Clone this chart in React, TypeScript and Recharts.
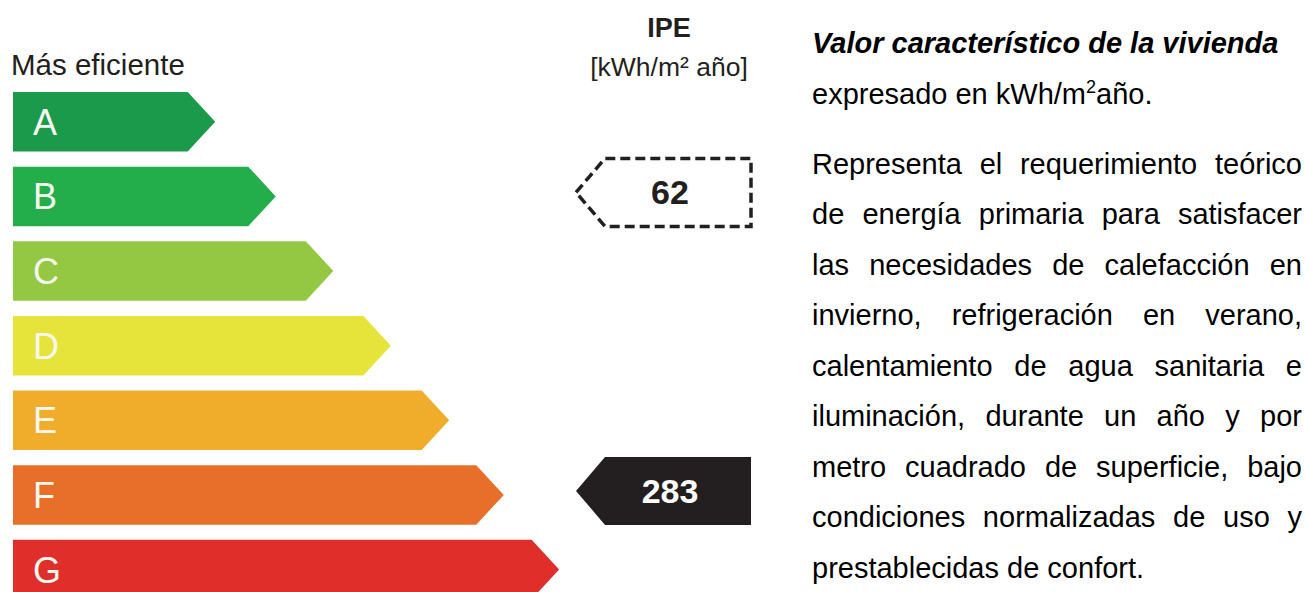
import { Bar, BarChart, Cell, LabelList, XAxis, YAxis } from "recharts";

// clases de eficiencia, de más a menos eficiente
const classes = ["A", "B", "C", "D", "E", "F", "G"];
// largo de cada flecha, en % del ancho de la escala
const classLength = [27.4, 35.6, 43.4, 51.2, 59.1, 66.5, 74.0];
const classColors = ["#1c9a4b", "#24ae4b", "#95c842", "#e6e43a", "#f0ac2b", "#e86f29", "#e02e2a"];

// indicador de prestaciones energéticas por fila
const ipeValues = [null, 62, null, null, null, 283, null];
const ipeKinds = [null, "referencia", null, null, null, "vivienda", null];

const topLabel = "Más eficiente";
const ipeTitle = "IPE";
const ipeUnit = "[kWh/m² año]";

const noteTitle = "Valor característico de la vivienda";
const noteUnitPre = "expresado en kWh/m";
const noteUnitPost = "año.";
const noteBody =
  "Representa el requerimiento teórico de energía primaria para satisfacer las necesidades de calefacción en invierno, refrigeración en verano, calentamiento de agua sanitaria e iluminación, durante un año y por metro cuadrado de superficie, bajo condiciones normalizadas de uso y prestablecidas de confort.";

const data = classes.map((name, i) => ({
  name,
  length: classLength[i],
  ipe: ipeValues[i],
}));

const FONT = "'Liberation Sans', Arial, Helvetica, sans-serif";
const CHART_W = 760;
const CHART_H = 620;
const MARGIN = { top: 84, right: 9, bottom: 13.6, left: 13 };
const PLOT_RIGHT = CHART_W - MARGIN.right;

function ClassArrow(props: any) {
  const { x, y, width, height, fill } = props;
  const tip = 27.5;
  const d = `M${x},${y}H${x + width - tip}L${x + width},${y + height / 2}L${x + width - tip},${y + height}H${x}Z`;
  return <path d={d} fill={fill} />;
}

function ClassLetter(props: any) {
  const vb = props.viewBox ?? props;
  return (
    <text
      x={vb.x + 20}
      y={vb.y + vb.height / 2 + 13}
      fontSize={36}
      fontFamily={FONT}
      fill="#f6f8f0"
    >
      {props.value}
    </text>
  );
}

function IpePointer(props: any) {
  const { value } = props;
  if (value == null) return null;
  const vb = props.viewBox ?? props;
  const kind = ipeKinds[ipeValues.indexOf(value)];
  const cy = vb.y + vb.height / 2 - 4;
  const half = 34;
  const tip = 29;
  const right = PLOT_RIGHT;
  const left = right - 175;
  const d = `M${left},${cy}L${left + tip},${cy - half}H${right}V${cy + half}H${left + tip}Z`;
  const solid = kind === "vivienda";
  return (
    <g>
      <path
        d={d}
        fill={solid ? "#231f20" : "#fff"}
        stroke={solid ? "none" : "#231f20"}
        strokeWidth={3.5}
        strokeDasharray={solid ? undefined : "10 5"}
      />
      <text
        x={left + 94}
        y={cy + 12}
        textAnchor="middle"
        fontSize={34}
        fontWeight="bold"
        fontFamily={FONT}
        fill={solid ? "#fff" : "#231f20"}
      >
        {value}
      </text>
    </g>
  );
}

export default function App() {
  return (
    <div
      style={{
        position: "absolute",
        left: 0,
        top: 0,
        width: 1305,
        height: 592,
        overflow: "hidden",
        background: "#fff",
        fontFamily: FONT,
      }}
    >
      <div style={{ position: "absolute", left: 0, top: 0 }}>
        <BarChart
          layout="vertical"
          width={CHART_W}
          height={CHART_H}
          data={data}
          margin={MARGIN}
          barSize={59.5}
        >
          <XAxis type="number" domain={[0, 100]} hide />
          <YAxis type="category" dataKey="name" hide />
          <Bar dataKey="length" shape={<ClassArrow />} isAnimationActive={false}>
            {data.map((d, i) => (
              <Cell key={d.name} fill={classColors[i]} />
            ))}
            <LabelList dataKey="name" content={<ClassLetter />} />
            <LabelList dataKey="ipe" content={<IpePointer />} />
          </Bar>
        </BarChart>
      </div>

      <svg
        width={CHART_W}
        height={100}
        style={{ position: "absolute", left: 0, top: 0, pointerEvents: "none" }}
      >
        <text x={11} y={75} fontSize={29.5} fontFamily={FONT} fill="#231f20">
          {topLabel}
        </text>
        <text x={669} y={37} textAnchor="middle" fontSize={27} fontWeight="bold" fontFamily={FONT} fill="#231f20">
          {ipeTitle}
        </text>
        <text x={669} y={76} textAnchor="middle" fontSize={26.5} fontFamily={FONT} fill="#231f20">
          {ipeUnit}
        </text>
      </svg>

      <div
        style={{
          position: "absolute",
          left: 812,
          top: 18.2,
          width: 490,
          fontSize: 29,
          lineHeight: "50.5px",
          color: "#000",
        }}
      >
        <div style={{ fontWeight: "bold", fontStyle: "italic" }}>{noteTitle}</div>
        <div>
          {noteUnitPre}
          <sup style={{ fontSize: 18, lineHeight: 0 }}>2</sup>
          {noteUnitPost}
        </div>
      </div>
      <div
        style={{
          position: "absolute",
          left: 812,
          top: 138.7,
          width: 490,
          fontSize: 29,
          lineHeight: "50.5px",
          textAlign: "justify",
          color: "#000",
        }}
      >
        {noteBody}
      </div>
    </div>
  );
}
